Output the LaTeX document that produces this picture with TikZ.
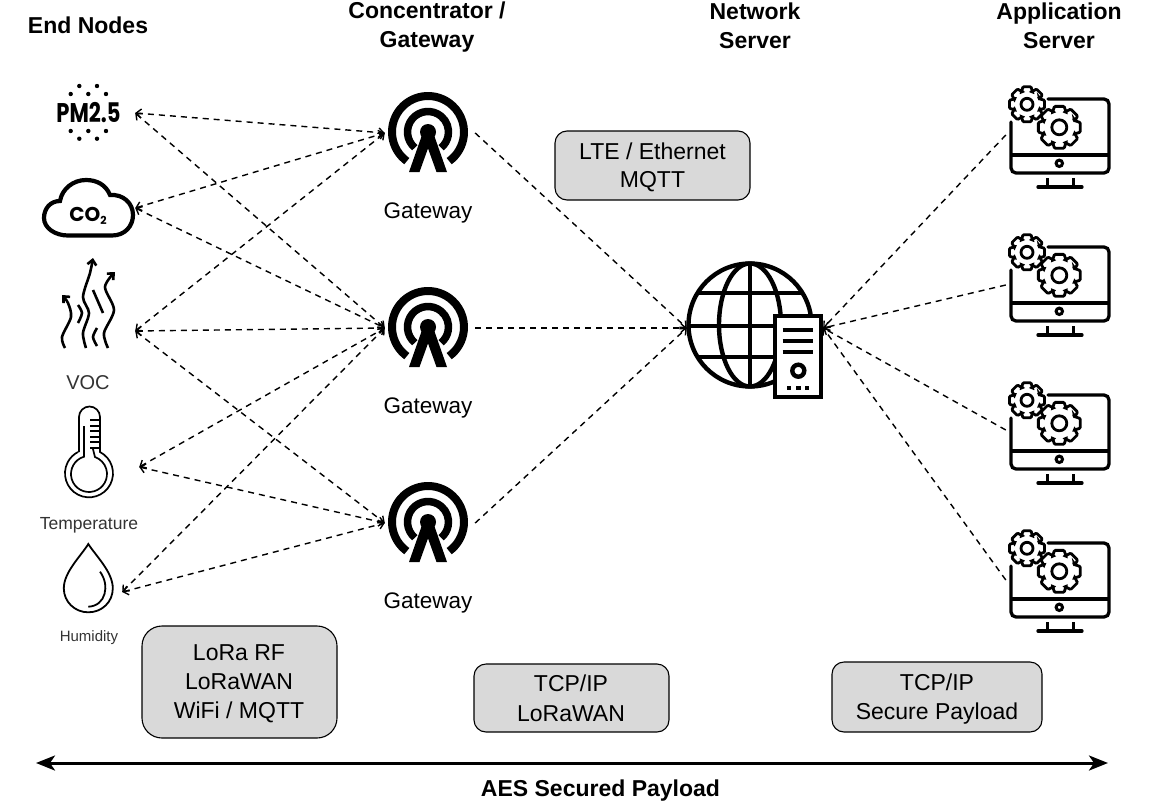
\documentclass[tikz,border=0pt]{standalone}
\usepackage{fontspec}
\setmainfont{Liberation Sans}
\newfontfamily\iconfont{Poppins}
\usetikzlibrary{arrows.meta}

\tikzset{
    >={Straight Barb[length=5pt,width=9pt]},
    spot/.style={inner sep=0pt, minimum height=10pt},
    title/.style={inner sep=0pt, align=center, font=\fontsize{23}{28.5}\bfseries\selectfont},
    caption/.style={inner sep=0pt, font=\fontsize{22.5}{29}\selectfont},
    small/.style={inner sep=0pt, text=black!80, font=\fontsize{#1}{#1}\selectfont},
    proto/.style={draw=black, line width=1.1pt, fill=black!15, rounded corners=#1, inner sep=0pt, minimum width=195pt},
    prototext/.style={inner sep=0pt, align=center, font=\fontsize{23}{#1}\selectfont},
    dlink/.style={line width=1.4pt, dash pattern=on 6pt off 5pt},
    gatewayicon/.pic={
        \draw[line width=8pt] (126:36) arc[start angle=126, end angle=414, radius=36];
        \draw[line width=7.5pt] (130:20.5) arc[start angle=130, end angle=410, radius=20.5];
        \fill (0,0) circle (8);
        \fill (-19,40) -- (-8.5,40) -- (3,8) -- (-6,3) -- cycle;
        \fill (19,40) -- (8.5,40) -- (-3,8) -- (6,3) -- cycle;
    },
    appicon/.pic={
        \draw[line width=3.3pt, rounded corners=5pt, line cap=round] (-49,-13) -- (-49,38) -- (49,38) -- (49,-36) -- (-12,-36);
        \draw[line width=3.3pt] (-49,20) -- (49,20);
        \draw[line width=3pt] (-0.7,28.3) circle (3.2);
        \draw[line width=3pt] (-13,43) -- (-13,51) (13,43) -- (13,51);
        \draw[line width=3.3pt, line cap=round] (-22,52) -- (22,52);
        \draw[line width=2.8pt, fill=white, rounded corners=1pt, shift={(-33,-30.7)}] (-24:13.5)
            \foreach \k in {0,45,...,315} { -- (\k-13:18) -- (\k+13:18) -- (\k+24:13.5) -- (\k+21:13.5) } -- cycle;
        \draw[line width=2.8pt, shift={(-33,-30.7)}] (0,0) circle (6);
        \draw[line width=2.8pt, fill=white, rounded corners=1pt, shift={(-0.7,-7.7)}] (-24:16.5)
            \foreach \k in {0,45,...,315} { -- (\k-13:21.5) -- (\k+13:21.5) -- (\k+24:16.5) -- (\k+21:16.5) } -- cycle;
        \draw[line width=2.8pt, shift={(-0.7,-7.7)}] (0,0) circle (7.5);
    },
}

\begin{document}
\begin{tikzpicture}[x=1pt, y=-1pt]
    \useasboundingbox (0,0) rectangle (1150,808);

    % column titles
    \node[title] (titlenodes) at (88,25) {End Nodes};
    \node[title] (titlegw) at (427,27) {Concentrator /\\Gateway};
    \node[title] (titlenet) at (755,26) {Network\\Server};
    \node[title] (titleapp) at (1059,26) {Application\\Server};

    % places the connectors end on
    \node[spot, minimum width=94pt] (pm) at (88,113) {};
    \node[spot, minimum width=94pt] (co) at (88,208) {};
    \node[spot, minimum width=94pt] (voc) at (88,331) {};
    \node[spot, minimum width=100pt] (temp) at (89,467) {};
    \node[spot, minimum width=66pt] (hum) at (89,592) {};
    \node[spot, minimum width=90pt] (gwa) at (430,133) {};
    \node[spot, minimum width=90pt] (gwb) at (430,328) {};
    \node[spot, minimum width=90pt] (gwc) at (430,523) {};
    \node[spot, minimum width=136pt] (net) at (755,328) {};
    \node[spot, minimum width=108pt] (appa) at (1060,135) {};
    \node[spot, minimum width=108pt] (appb) at (1060,285) {};
    \node[spot, minimum width=108pt] (appc) at (1060,430) {};
    \node[spot, minimum width=108pt] (appd) at (1060,580) {};

    % PM2.5
    \node[inner sep=0pt, xscale=0.78, font=\iconfont\fontsize{27}{27}\bfseries\selectfont] (pmtext) at (88.5,112.5) {PM2.5};
    \foreach \px/\py in {79.3/86,97/86,70.7/94,88.3/94,106/94,70.7/131,88.3/131,106/131,79.3/138.7,97/138.7}
        \fill (\px,\py) circle (2.2);

    % CO2
    \draw[line width=4.2pt] (68,235.5) -- (112,235.5) .. controls (125,235.5) and (133,226) .. (133,215) .. controls (133,203) and (123,194) .. (110,195)
        .. controls (106,185) and (97,180) .. (86,180) .. controls (73,180) and (62,189) .. (60,201)
        .. controls (50,201) and (44,209) .. (44,218) .. controls (44,228) and (55,235.5) .. (68,235.5) -- cycle;
    \node[inner sep=0pt, font=\iconfont\fontsize{20}{20}\bfseries\selectfont] (cotext) at (88,216) {CO\raisebox{-3pt}{\fontsize{11}{11}\selectfont 2}};

    % VOC
    \draw[->, line width=2.6pt] plot[smooth] coordinates {(86,348) (83,333) (89,313) (83,297) (90,273) (93,258)};
    \draw[->, line width=2.6pt] plot[smooth] coordinates {(108,348) (104,333) (114,310) (105,287) (115,272)};
    \draw[->, line width=2.6pt] plot[smooth] coordinates {(65,348) (62,337) (71,317) (68,303) (62,295)};
    \draw[line width=2.6pt] plot[smooth] coordinates {(78,305) (82,313) (78,323)};
    \draw[line width=2.6pt] (93,290) -- (103,313);
    \draw[line width=2.6pt] plot[smooth] coordinates {(97,328) (93,337) (97,346)};
    \node[small=20] (voclabel) at (88,383) {VOC};

    % thermometer
    \draw[line width=1.7pt] (79,452) -- (79,417) arc[start angle=180, end angle=360, radius=10.5] -- (100,452)
        arc[start angle=-62.7, end angle=242.7, radius=24];
    \draw[line width=1.7pt] (84,426) -- (84,456.7) arc[start angle=253.9, end angle=-70.5, radius=18] -- (93,449);
    \foreach \ty in {420,425.7,431,436.7,442.3,447.7}
        \draw[line width=1.7pt] (90,\ty) -- (99.5,\ty);
    \node[small=17.5] (templabel) at (89,525) {Temperature};

    % droplet
    \draw[line width=1.8pt] (88.3,544) .. controls (81,556) and (63.8,572) .. (63.8,588.3)
        .. controls (63.8,602) and (75,612.3) .. (88.3,612.3) .. controls (102,612.3) and (112.8,602) .. (112.8,588.3)
        .. controls (112.8,572) and (96,556) .. (88.3,544) -- cycle;
    \draw[line width=1.8pt] (100,571.7) .. controls (110,585) and (106,606) .. (88.3,606.7);
    \node[small=15] (humlabel) at (89,638) {Humidity};

    % gateways
    \foreach \gy in {132,327,522}
        \pic at (428,\gy) {gatewayicon};
    \node[caption] (gwalabel) at (428,213) {Gateway};
    \node[caption] (gwblabel) at (428,408) {Gateway};
    \node[caption] (gwclabel) at (428,603) {Gateway};

    % network server
    \begin{scope}[line width=4.4pt]
        \draw (750,325) circle (61.5);
        \draw (750,325) ellipse (31 and 61.5);
        \draw (750,263.5) -- (750,386.5);
        \draw (697,293) -- (803,293);
        \draw (688.5,326) -- (811.5,326);
        \draw (697,357) -- (803,357);
        \draw[fill=white] (775,316) rectangle (821,397);
        \draw[line width=4pt] (782.7,330) -- (813.3,330) (782.7,340.7) -- (813.3,340.7) (782.7,352) -- (813.3,352);
        \draw (798.3,370.7) circle (6);
    \end{scope}
    \foreach \dx in {789,798.3,807}
        \fill (\dx-2.2,385.8) rectangle (\dx+2.2,390.2);

    % application servers
    \foreach \ay in {135,283,431,579}
        \pic at (1060,\ay) {appicon};

    % connectors
    \foreach \src/\dst in {pm/gwa,pm/gwb,co/gwa,co/gwb,voc/gwa,voc/gwb,voc/gwc,temp/gwb,temp/gwc,hum/gwb,hum/gwc}
        \draw[dlink, <->] (\src.east) -- (\dst.west);
    \foreach \src in {gwa,gwb,gwc}
        \draw[dlink, ->] (\src.east) -- (net.west);
    \foreach \src in {appa,appb,appc,appd}
        \draw[dlink, ->] (\src.west) -- (net.east);

    % protocol boxes
    \node[proto=20pt, minimum height=112pt] (boxlora) at (239.5,682) {};
    \node[prototext=29] (loratext) at (239,684) {LoRa RF\\LoRaWAN\\WiFi / MQTT};
    \node[proto=12pt, minimum height=68pt] (boxtcp) at (571.5,698) {};
    \node[prototext=30] (tcptext) at (571,698) {TCP/IP\\LoRaWAN};
    \node[proto=12pt, minimum height=69pt] (boxlte) at (652.5,165.5) {};
    \node[prototext=28] (ltetext) at (652.5,167.5) {LTE / Ethernet\\MQTT};
    \node[proto=12pt, minimum width=210pt, minimum height=70pt] (boxsec) at (937,697) {};
    \node[prototext=29] (sectext) at (937,699) {TCP/IP\\Secure Payload};

    % payload arrow
    \coordinate (payleft) at (36,763);
    \coordinate (payright) at (1108,763);
    \draw[{Stealth[length=19pt,width=15pt,inset=5pt]}-{Stealth[length=19pt,width=15pt,inset=5pt]}, line width=3pt] (payleft) -- (payright);
    \node[title] (paylabel) at (600.5,791) {AES Secured Payload};
\end{tikzpicture}
\end{document}
